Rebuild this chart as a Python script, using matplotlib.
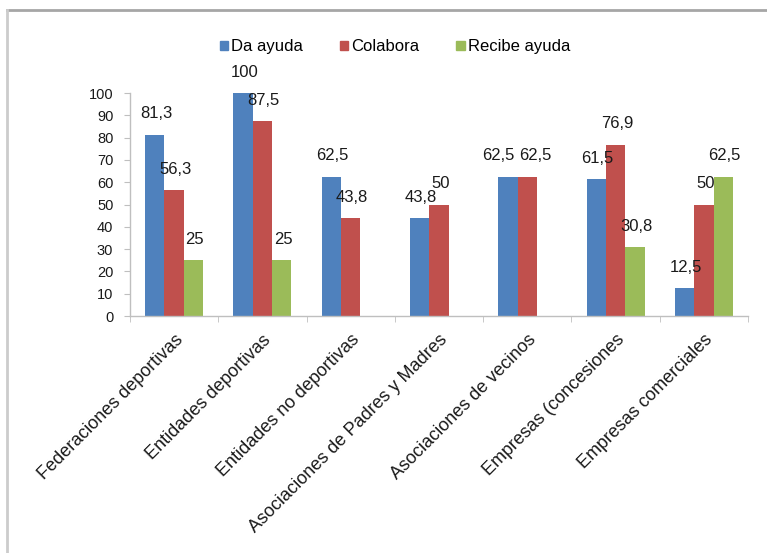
import numpy as np
import matplotlib
matplotlib.use("Agg")
import matplotlib.pyplot as plt
from matplotlib.patches import Rectangle

plt.rcParams['font.family'] = ['Liberation Sans', 'DejaVu Sans']

categories = [
    "Federaciones deportivas",
    "Entidades deportivas",
    "Entidades no deportivas",
    "Asociaciones de Padres y Madres",
    "Asociaciones de vecinos",
    "Empresas (concesiones",
    "Empresas comerciales",
]
series_names = ["Da ayuda", "Colabora", "Recibe ayuda"]
da_ayuda = [81.3, 100, 62.5, 43.8, 62.5, 61.5, 12.5]
colabora = [56.3, 87.5, 43.8, 50, 62.5, 76.9, 50]
recibe_ayuda = [25, 25, np.nan, np.nan, np.nan, 30.8, 62.5]
y_ticks = [0, 10, 20, 30, 40, 50, 60, 70, 80, 90, 100]

colors = ["#4F81BD", "#C0504D", "#9BBB59"]

# horizontal nudges (points) for value labels that would otherwise collide
label_nudge = {(0, 4): -8, (1, 4): 5}

W, H = 767, 553
fig = plt.figure(figsize=(W / 100, H / 100), dpi=100)

# outer chart frame (top and left edges visible)
fig.add_artist(plt.Line2D([7 / W, 1.0], [1 - 10 / H, 1 - 10 / H],
                          transform=fig.transFigure, color="#a6a6a6", lw=2))
fig.add_artist(plt.Line2D([7 / W, 7 / W], [0, 1 - 10 / H],
                          transform=fig.transFigure, color="#cccccc", lw=2))

ax = fig.add_axes([130 / W, (H - 316) / H, (748 - 130) / W, (316 - 93) / H])

x = np.arange(len(categories))
bw = 0.219
all_series = [da_ayuda, colabora, recibe_ayuda]
for k, (vals, name, c) in enumerate(zip(all_series, series_names, colors)):
    pos = x + (k - 1) * bw
    v = np.array(vals, dtype=float)
    ax.bar(pos, np.nan_to_num(v), width=bw, color=c, label=name, linewidth=0)
    for i, (px, val) in enumerate(zip(pos, v)):
        if np.isnan(val):
            continue
        txt = f"{val:g}".replace(".", ",")
        dx = 1 + label_nudge.get((k, i), 0)
        ax.annotate(txt, (px, val), xytext=(dx, 15), textcoords="offset points",
                    ha="center", va="center", fontsize=12, color="#1a1a1a")

ax.set_xlim(-0.5, len(categories) - 0.5)
ax.set_ylim(0, 100)
ax.set_yticks(y_ticks)
ax.set_yticklabels([str(t) for t in y_ticks], fontsize=10.5, color="#1a1a1a")
ax.set_xticks(x)
ax.set_xticklabels(categories, rotation=45, ha="right", rotation_mode="anchor",
                   fontsize=13, color="#1a1a1a")
ax.tick_params(axis="x", which="major", length=0, pad=11)
ax.set_xticks(np.arange(-0.5, len(categories), 1.0), minor=True)
ax.tick_params(axis="x", which="minor", length=4, color="#bfbfbf", direction="out")
ax.tick_params(axis="y", length=4, color="#bfbfbf", pad=8)

for s in ["top", "right"]:
    ax.spines[s].set_visible(False)
for s in ["left", "bottom"]:
    ax.spines[s].set_color("#bfbfbf")
    ax.spines[s].set_linewidth(1)

handles = [Rectangle((0, 0), 1, 1, color=c) for c in colors]
fig.legend(handles, series_names, loc="center", bbox_to_anchor=(395 / W, 1 - 47 / H),
           ncol=3, frameon=False, fontsize=12, handlelength=0.5, handleheight=0.5,
           handletextpad=0.2, columnspacing=2.2)

fig.savefig("out.png", dpi=100, facecolor="white")
